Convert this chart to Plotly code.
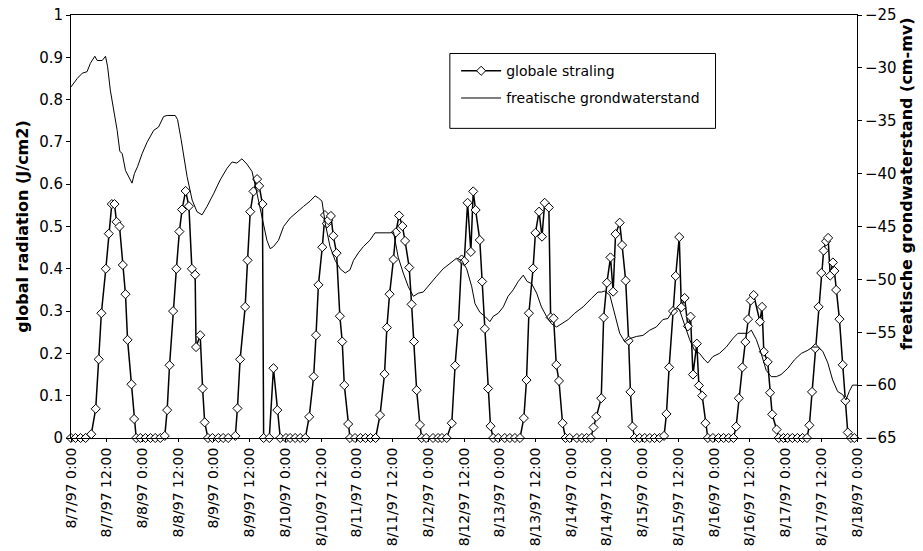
import pandas as pd
import plotly.graph_objects as go

START = pd.Timestamp("1997-08-07 00:00")
END = pd.Timestamp("1997-08-18 00:00")

# ---- global radiation (J/cm2): hour of day and value, per day ----
rad_h_0807 = [0, 1.5, 3.2, 4.9, 6.8, 8.3, 9.3, 10.2, 11.7, 12.7, 13.7, 14.6, 15.3, 16.3, 17.4, 18.3, 19.0, 20.3, 21.2, 21.9, 23.3]
rad_v_0807 = [0, 0, 0, 0, 0.009, 0.069, 0.186, 0.295, 0.40, 0.483, 0.553, 0.553, 0.511, 0.50, 0.409, 0.34, 0.232, 0.127, 0.045, 0, 0]
rad_h_0808 = [1.0, 2.7, 4.3, 6.0, 7.5, 8.3, 9.1, 10.3, 11.4, 12.4, 13.3, 14.5, 15.6, 16.6, 17.7, 18.0, 19.4, 20.2, 20.9, 22.0, 23.5]
rad_v_0808 = [0, 0, 0, 0, 0.005, 0.066, 0.172, 0.30, 0.40, 0.488, 0.54, 0.584, 0.548, 0.40, 0.386, 0.215, 0.243, 0.117, 0.037, 0, 0]
rad_h_0809 = [1.5, 3.1, 4.8, 7.2, 7.9, 8.8, 10.5, 11.3, 12.2, 13.3, 14.5, 15.2, 16.3, 16.7, 18.6, 20.0, 21.3, 22.3]
rad_v_0809 = [0, 0, 0, 0.005, 0.07, 0.186, 0.31, 0.42, 0.535, 0.583, 0.612, 0.596, 0.553, 0, 0, 0.165, 0.066, 0]
rad_h_0810 = [0.2, 1.6, 3.3, 5.0, 6.7, 8.0, 9.5, 10.3, 11.1, 12.4, 13.3, 13.9, 14.4, 15.3, 16.1, 17.2, 18.3, 19.1, 19.8, 21.1, 21.7, 23.4]
rad_v_0810 = [0, 0, 0, 0, 0, 0.05, 0.145, 0.243, 0.362, 0.451, 0.527, 0.507, 0.515, 0.525, 0.478, 0.437, 0.288, 0.228, 0.125, 0.033, 0, 0]
rad_h_0811 = [1.2, 2.9, 4.6, 6.3, 7.8, 9.3, 10.1, 11.0, 12.3, 13.1, 14.2, 15.3, 16.2, 17.6, 18.4, 19.2, 20.1, 21.2, 21.8, 23.3]
rad_v_0811 = [0, 0, 0, 0, 0.054, 0.151, 0.261, 0.34, 0.422, 0.486, 0.526, 0.501, 0.466, 0.403, 0.316, 0.228, 0.113, 0.031, 0, 0]
rad_h_0812 = [1.6, 3.3, 4.6, 6.2, 7.9, 9.0, 10.1, 11.2, 12.1, 13.2, 14.3, 15.1, 15.9, 17.3, 18.1, 19.0, 20.1, 20.9, 21.8, 23.5]
rad_v_0812 = [0, 0, 0, 0, 0.035, 0.171, 0.267, 0.422, 0.418, 0.556, 0.44, 0.583, 0.539, 0.468, 0.37, 0.258, 0.117, 0.028, 0, 0]
rad_h_0813 = [1.7, 3.4, 5.1, 6.8, 8.1, 9.0, 9.8, 11.2, 12.0, 13.2, 14.2, 15.1, 16.5, 17.1, 18.1, 19.0, 19.9, 21.1, 22.1, 23.5]
rad_v_0813 = [0, 0, 0, 0, 0.047, 0.137, 0.295, 0.401, 0.485, 0.535, 0.476, 0.556, 0.545, 0.285, 0.283, 0.173, 0.135, 0.035, 0, 0]
rad_h_0814 = [1.9, 3.6, 5.2, 6.6, 7.5, 8.4, 10.1, 10.9, 12.0, 13.2, 14.1, 14.9, 16.3, 17.1, 18.3, 19.3, 19.9, 20.6, 21.3, 23.0]
rad_v_0814 = [0, 0, 0, 0, 0.025, 0.05, 0.094, 0.285, 0.367, 0.427, 0.346, 0.482, 0.509, 0.456, 0.372, 0.23, 0.109, 0.027, 0, 0]
rad_h_0815 = [0.7, 2.4, 4.0, 5.7, 7.2, 8.0, 8.9, 10.2, 11.1, 12.3, 13.0, 14.1, 15.2, 16.1, 16.9, 18.2, 18.9, 20.0, 21.1, 21.9, 23.6]
rad_v_0815 = [0, 0, 0, 0, 0.005, 0.057, 0.167, 0.30, 0.383, 0.475, 0.309, 0.331, 0.264, 0.287, 0.15, 0.223, 0.124, 0.10, 0.035, 0, 0]
rad_h_0816 = [1.5, 3.2, 4.9, 6.5, 7.4, 8.3, 9.5, 10.5, 11.4, 12.3, 13.3, 15.4, 16.1, 16.7, 18.0, 18.8, 19.5, 21.0, 21.7, 23.3]
rad_v_0816 = [0, 0, 0, 0, 0.027, 0.094, 0.167, 0.227, 0.281, 0.325, 0.338, 0.275, 0.31, 0.204, 0.18, 0.107, 0.056, 0.02, 0, 0]
rad_h_0817 = [0.7, 2.3, 4.0, 5.7, 7.2, 8.0, 8.9, 10.0, 11.1, 12.0, 12.8, 13.6, 14.3, 15.0, 15.9, 16.4, 17.0, 18.1, 19.2, 20.1, 20.9, 22.0, 23.1]
rad_v_0817 = [0, 0, 0, 0, 0, 0.03, 0.109, 0.212, 0.31, 0.39, 0.443, 0.465, 0.473, 0.384, 0.415, 0.395, 0.35, 0.281, 0.173, 0.088, 0.013, 0, 0]

rad_days = [
    ("1997-08-07", rad_h_0807, rad_v_0807),
    ("1997-08-08", rad_h_0808, rad_v_0808),
    ("1997-08-09", rad_h_0809, rad_v_0809),
    ("1997-08-10", rad_h_0810, rad_v_0810),
    ("1997-08-11", rad_h_0811, rad_v_0811),
    ("1997-08-12", rad_h_0812, rad_v_0812),
    ("1997-08-13", rad_h_0813, rad_v_0813),
    ("1997-08-14", rad_h_0814, rad_v_0814),
    ("1997-08-15", rad_h_0815, rad_v_0815),
    ("1997-08-16", rad_h_0816, rad_v_0816),
    ("1997-08-17", rad_h_0817, rad_v_0817),
]

# ---- phreatic groundwater level (cm-mv): hours since 8/7/97 0:00 ----
gw_hours = [0, 0.9, 2.1, 3.8, 5.4, 6.5, 8.0, 8.8, 10.5, 11.6,
            12.3, 13.2, 14.4, 15.5, 16.4, 17.2, 18.3, 19.4, 20.5, 21.3,
            22.4, 23.9, 25.6, 27.8, 29.4, 31.1, 32.3, 35.0, 35.8, 37.0,
            38.1, 39.0, 40.7, 42.3, 44.0, 45.7, 47.9, 50.1, 52.4, 54.1,
            55.7, 57.4, 59.1, 60.8, 62.5, 63.6, 64.7, 65.8, 66.9, 68.0,
            69.7, 71.4, 73.6, 75.9, 78.1, 80.3, 82.0, 83.1, 84.3, 85.4,
            87.0, 88.7, 90.4, 92.1, 93.7, 94.9, 96.5, 98.2, 100.4, 102.1,
            103.8, 105.5, 107.2, 108.3, 109.9, 111.6, 113.3, 115.0, 116.7, 118.3,
            120.6, 122.8, 125.0, 127.3, 129.5, 131.2, 132.9, 134.6, 135.7, 137.3,
            139.0, 140.7, 141.8, 143.5, 145.2, 146.8, 148.5, 150.2, 151.9, 153.2,
            154.7, 156.4, 158.0, 159.7, 161.4, 163.1, 164.7, 167.0, 169.2, 172.0,
            174.8, 177.0, 178.2, 179.3, 181.0, 182.6, 184.3, 186.0, 187.7, 189.9,
            192.1, 194.4, 196.6, 198.8, 200.5, 202.2, 203.5, 204.4, 206.1, 207.8,
            209.4, 211.1, 212.8, 213.9, 215.6, 217.8, 220.1, 222.3, 224.0, 225.7,
            227.3, 228.5, 230.2, 231.8, 233.5, 235.2, 236.9, 238.5, 240.8, 243.0,
            245.3, 247.5, 249.1, 250.8, 252.5, 254.2, 255.8, 257.5, 259.2, 260.3,
            261.4, 262.5, 264.0]
gw_levels = [-31.8, -31.46, -31.0, -30.5, -30.36, -29.57, -28.9, -29.3, -29.3, -28.9,
             -29.9, -32.1, -34.0, -35.9, -37.9, -38.1, -39.7, -40.3, -40.9, -40.0,
             -39.3, -38.1, -37.0, -35.9, -35.6, -34.6, -34.5, -34.5, -34.9, -36.8,
             -38.7, -40.3, -42.5, -43.6, -43.9, -43.1, -41.9, -40.6, -39.5, -38.9,
             -39.0, -38.6, -39.1, -39.8, -41.9, -43.4, -45.0, -46.3, -47.1, -46.9,
             -46.3, -45.0, -44.2, -43.6, -43.1, -42.6, -42.1, -42.3, -42.6, -44.7,
             -46.9, -48.2, -49.0, -49.4, -49.1, -48.2, -47.5, -46.9, -46.3, -45.6,
             -45.6, -45.6, -45.6, -45.5, -47.9, -49.4, -50.7, -51.6, -51.3, -51.2,
             -50.4, -49.7, -49.0, -48.5, -48.0, -48.2, -49.0, -50.7, -52.3, -53.1,
             -53.5, -54.0, -53.5, -53.2, -52.6, -51.6, -51.0, -50.2, -49.6, -50.2,
             -50.4, -51.3, -52.6, -53.5, -54.2, -54.5, -54.2, -53.8, -53.2, -52.6,
             -51.8, -51.2, -51.2, -51.1, -51.5, -53.2, -55.1, -55.9, -55.6, -55.4,
             -55.3, -54.8, -54.5, -53.8, -53.7, -52.9, -52.7, -52.9, -54.2, -55.7,
             -56.7, -57.0, -57.6, -57.9, -57.3, -57.0, -56.4, -55.6, -55.1, -55.1,
             -55.1, -54.8, -55.7, -57.0, -58.6, -59.2, -59.2, -59.0, -58.4, -57.6,
             -57.0, -56.7, -56.4, -56.4, -56.8, -57.9, -59.5, -60.6, -60.9, -61.4,
             -60.6, -60.0, -60.0]

tick_labels = ["8/7/97 0:00", "8/7/97 12:00", "8/8/97 0:00", "8/8/97 12:00",
               "8/9/97 0:00", "8/9/97 12:00", "8/10/97 0:00", "8/10/97 12:00",
               "8/11/97 0:00", "8/11/97 12:00", "8/12/97 0:00", "8/12/97 12:00",
               "8/13/97 0:00", "8/13/97 12:00", "8/14/97 0:00", "8/14/97 12:00",
               "8/15/97 0:00", "8/15/97 12:00", "8/16/97 0:00", "8/16/97 12:00",
               "8/17/97 0:00", "8/17/97 12:00", "8/18/97 0:00"]

# ---- build series ----
rad_t, rad_v = [], []
for day, hrs, vals in rad_days:
    d0 = pd.Timestamp(day)
    for h, v in zip(hrs, vals):
        rad_t.append(d0 + pd.Timedelta(hours=h))
        rad_v.append(v)

gw_t = [START + pd.Timedelta(hours=h) for h in gw_hours]
tick_vals = [START + pd.Timedelta(hours=12 * i) for i in range(len(tick_labels))]

FONT = "DejaVu Sans"

fig = go.Figure()
fig.add_trace(go.Scatter(
    x=gw_t, y=gw_levels, yaxis="y2", mode="lines",
    name="freatische grondwaterstand",
    line=dict(color="black", width=1),
    legendrank=2, legendgroup="b",
))
fig.add_trace(go.Scatter(
    x=rad_t, y=rad_v, mode="lines+markers",
    name="globale straling",
    line=dict(color="black", width=1.5),
    marker=dict(symbol="diamond", size=7, color="white",
                line=dict(color="black", width=1)),
    cliponaxis=False,
    legendrank=1, legendgroup="a",
))

fig.update_layout(
    width=923, height=551,
    margin=dict(l=71, r=66, t=15, b=113, autoexpand=False),
    paper_bgcolor="white", plot_bgcolor="white",
    font=dict(family=FONT, color="black", size=14),
    showlegend=True,
    legend=dict(
        x=0.49, xanchor="left", y=0.905, yanchor="top",
        bgcolor="rgba(0,0,0,0)", borderwidth=0,
        font=dict(family=FONT, size=14, color="black"),
        itemwidth=40, tracegroupgap=6, traceorder="grouped",
    ),
    xaxis=dict(
        type="date", range=[START, END], automargin=False,
        tickmode="array", tickvals=tick_vals, ticktext=tick_labels,
        tickangle=-90, tickfont=dict(family=FONT, size=14),
        ticks="outside", ticklen=3, tickcolor="black",
        showline=True, linecolor="black", linewidth=1, mirror=True,
        showgrid=False, zeroline=False,
    ),
    yaxis=dict(
        range=[0, 1], dtick=0.1, tick0=0, automargin=False,
        ticks="outside", ticklen=4, tickcolor="black",
        tickfont=dict(family=FONT, size=15),
        showline=True, linecolor="black", linewidth=1,
        showgrid=False, zeroline=False,
        title=dict(text="global radiation (J/cm2)", standoff=6,
                   font=dict(family=FONT, size=16, weight="bold")),
    ),
    yaxis2=dict(
        range=[-65, -25], dtick=5, tick0=-65, automargin=False,
        overlaying="y", side="right",
        ticks="outside", ticklen=4, tickcolor="black",
        tickfont=dict(family=FONT, size=15),
        showline=True, linecolor="black", linewidth=1,
        showgrid=False, zeroline=False,
    ),
    annotations=[dict(
        text="freatische grondwaterstand (cm-mv)",
        xref="paper", yref="paper", x=1.0636, y=0.603,
        xanchor="center", yanchor="middle", textangle=-90, showarrow=False,
        font=dict(family=FONT, size=16, weight="bold", color="black"),
    )],
    shapes=[dict(type="rect", xref="paper", yref="paper",
                 x0=0.482, x1=0.82, y0=0.732, y1=0.909,
                 line=dict(color="black", width=1),
                 fillcolor="rgba(0,0,0,0)", layer="above")],
)

fig.write_html("out.html", config={"displayModeBar": False},
               post_script="document.body.style.margin='0px';document.body.style.padding='0px';")
